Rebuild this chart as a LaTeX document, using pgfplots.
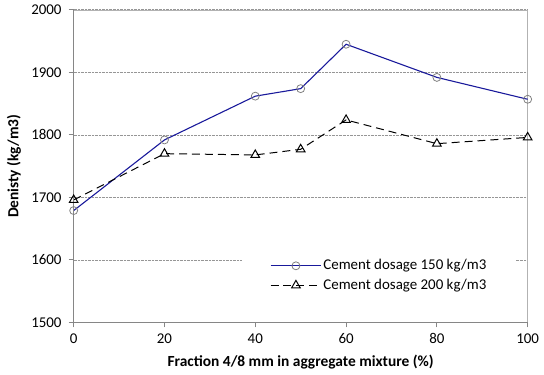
\documentclass[border=0pt]{standalone}
\usepackage{fontspec}
\setmainfont{Carlito}
\usepackage{pgfplots}
\pgfplotsset{compat=1.18}
\definecolor{lineblue}{RGB}{25,25,155}
\definecolor{axgray}{RGB}{134,134,134}
\definecolor{gridgray}{RGB}{150,150,150}
\definecolor{markgray}{RGB}{128,128,128}
\begin{document}
\fontsize{15bp}{18bp}\selectfont
\begin{tikzpicture}
\begin{axis}[
  scale only axis,
  width=456bp, height=314bp,
  xmin=0, xmax=100, ymin=1500, ymax=2000,
  xtick={0,20,40,60,80,100},
  ytick={1500,1600,1700,1800,1900,2000},
  xtick pos=bottom, ytick pos=left,
  tick align=outside,
  major tick length=5bp,
  tick style={axgray, line width=1bp},
  ymajorgrids,
  major grid style={gridgray, dash pattern=on 0.7bp off 0.7bp, line width=0.8bp},
  axis line style={draw=gray!60, line width=0.6bp},
  /pgf/number format/assume math mode=true,
  /pgf/number format/1000 sep={},
  tick label style={font=\fontsize{15bp}{18bp}\selectfont},
  xticklabel style={yshift=-1bp},
  yticklabel style={xshift=-2bp},
  xlabel={\bfseries Fraction 4/8 mm in aggregate mixture (\%)},
  ylabel={\bfseries Denisty (kg/m3)},
  label style={font=\fontsize{15.5bp}{18bp}\selectfont},
  xlabel style={yshift=-1bp},
  ylabel style={yshift=0bp},
  clip=false,
  legend style={draw=none, fill=white, at={(0.3706,0.15)}, anchor=west,
    inner xsep=28bp, inner ysep=3bp, row sep=4bp,
    nodes={inner sep=1.5bp, font=\fontsize{15bp}{18bp}\selectfont}},
  legend cell align=left,
  legend image code/.code={\draw[#1, mark=none] (0bp,0bp) -- (51bp,0bp);
    \draw[#1, only marks] plot coordinates {(25.5bp,0bp)};},
]
\addplot[lineblue, line width=1.1bp, mark=o, mark size=4bp,
  mark options={draw=markgray, fill=white, solid, line width=0.8bp}]
  coordinates {(0,1679) (20,1792) (40,1862) (50,1874) (60,1945) (80,1892) (100,1857)};
\addlegendentry{Cement dosage 150 kg/m3}
\addplot[black, line width=1bp, dash pattern=on 8bp off 5bp, mark=triangle, mark size=5bp,
  mark options={draw=black, fill=white, solid, line width=1bp}]
  coordinates {(0,1696) (20,1770) (40,1768) (50,1777) (60,1824) (80,1786) (100,1796)};
\addlegendentry{Cement dosage 200 kg/m3}
\draw[axgray, line width=1.5bp] (rel axis cs:0,1) -- (rel axis cs:0,0) -- (rel axis cs:1,0);
\coordinate (sw) at (rel axis cs:0,0);
\coordinate (ne) at (rel axis cs:1,1);
\end{axis}
\path ([shift={(-74bp,-52bp)}]sw) rectangle ([shift={(14bp,8bp)}]ne);
\end{tikzpicture}
\end{document}
